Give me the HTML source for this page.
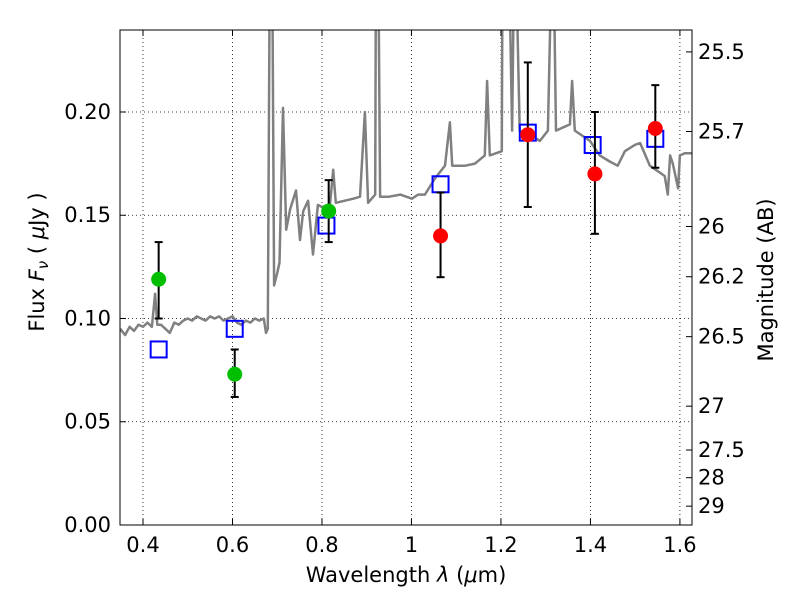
<!DOCTYPE html>
<html><head><meta charset="utf-8"><style>
body{margin:0;background:#fff}
svg text{font-family:"DejaVu Sans","Liberation Sans",sans-serif;fill:#000}
</style></head><body>
<svg id="chart" width="800" height="600" xmlns="http://www.w3.org/2000/svg"></svg>
<script>
const specWave=[0.349,0.36,0.37,0.38,0.39,0.40,0.41,0.42,0.427,0.432,0.44,0.45,0.46,0.47,0.48,0.49,0.50,0.51,0.52,0.53,0.54,0.55,0.56,0.57,0.58,0.59,0.60,0.61,0.62,0.63,0.64,0.65,0.66,0.67,0.675,0.679,0.684,0.688,0.693,0.70,0.705,0.713,0.720,0.729,0.742,0.751,0.758,0.769,0.780,0.791,0.80,0.818,0.825,0.831,0.85,0.87,0.885,0.896,0.903,0.919,0.921,0.925,0.930,0.95,0.975,1.001,1.015,1.030,1.053,1.075,1.086,1.091,1.120,1.142,1.164,1.169,1.175,1.202,1.204,1.216,1.225,1.231,1.242,1.265,1.287,1.305,1.316,1.323,1.354,1.359,1.365,1.399,1.421,1.443,1.461,1.477,1.499,1.511,1.533,1.566,1.573,1.578,1.584,1.596,1.600,1.611,1.627];
const specFlux=[0.095,0.092,0.096,0.094,0.097,0.096,0.098,0.096,0.112,0.097,0.097,0.095,0.093,0.098,0.097,0.099,0.100,0.099,0.101,0.100,0.099,0.101,0.100,0.101,0.099,0.100,0.101,0.098,0.097,0.099,0.098,0.100,0.099,0.100,0.093,0.095,0.30,0.30,0.116,0.122,0.127,0.202,0.143,0.153,0.162,0.138,0.152,0.157,0.131,0.155,0.154,0.155,0.172,0.156,0.157,0.158,0.159,0.200,0.156,0.160,0.30,0.30,0.159,0.159,0.160,0.158,0.160,0.160,0.168,0.174,0.195,0.174,0.174,0.175,0.179,0.215,0.179,0.181,0.30,0.30,0.191,0.30,0.191,0.189,0.186,0.191,0.30,0.191,0.194,0.215,0.191,0.186,0.179,0.176,0.174,0.181,0.184,0.185,0.174,0.169,0.160,0.179,0.175,0.163,0.179,0.180,0.180];
const greenWave=[0.435,0.605,0.815];
const greenFlux=[0.119,0.073,0.152];
const greenLo=[0.100,0.062,0.137];
const greenHi=[0.137,0.085,0.167];
const redWave=[1.065,1.26,1.41,1.545];
const redFlux=[0.140,0.189,0.170,0.192];
const redLo=[0.120,0.154,0.141,0.173];
const redHi=[0.161,0.224,0.200,0.213];
const sqWave=[0.435,0.605,0.81,1.065,1.26,1.405,1.545];
const sqFlux=[0.085,0.095,0.145,0.165,0.190,0.184,0.187];
const xTicks=[0.4,0.6,0.8,1.0,1.2,1.4,1.6];
const xTickLabels=["0.4","0.6","0.8","1","1.2","1.4","1.6"];
const yTicks=[0,0.05,0.10,0.15,0.20];
const yTickLabels=["0.00","0.05","0.10","0.15","0.20"];
const magTicks=[25.5,25.7,26,26.2,26.5,27,27.5,28,29];
const magTickLabels=["25.5","25.7","26","26.2","26.5","27","27.5","28","29"];

const L=120,R=692,T=30,B=525,X0=0.3486,X1=1.627,Y0=0,Y1=0.2397;
const sx=v=>L+(v-X0)/(X1-X0)*(R-L);
const sy=v=>B-(v-Y0)/(Y1-Y0)*(B-T);
const magToFlux=m=>Math.pow(10,(23.9-m)/2.5);
const svg=document.getElementById('chart');
const NS='http://www.w3.org/2000/svg';
function el(tag,attrs,parent){const e=document.createElementNS(NS,tag);for(const k in attrs)e.setAttribute(k,attrs[k]);(parent||svg).appendChild(e);return e;}

const defs=el('defs',{});const cp=el('clipPath',{id:'clip'},defs);el('rect',{x:L,y:T,width:R-L,height:B-T},cp);

const grid=el('g',{});


xTicks.forEach(v=>el('line',{x1:sx(v),x2:sx(v),y1:T,y2:B,stroke:'#000','stroke-width':0.8,'stroke-dasharray':'1,3'},grid));
yTicks.forEach(v=>el('line',{x1:L,x2:R,y1:sy(v),y2:sy(v),stroke:'#000','stroke-width':0.8,'stroke-dasharray':'1,3'},grid));

const g=el('g',{'clip-path':'url(#clip)'});
let d=specWave.map((w,i)=>(i?'L':'M')+sx(w).toFixed(1)+','+sy(specFlux[i]).toFixed(1)).join(' ');
const sp=el('path',{d:d,fill:'none',stroke:'#808080','stroke-width':2.5,'stroke-linejoin':'round'},g);



sqWave.forEach((w,i)=>{const r=el('rect',{x:sx(w)-8,y:sy(sqFlux[i])-8,width:16,height:16,fill:'none',stroke:'#0000ff','stroke-width':2},g);

});

function pts(ws,fs,lo,hi,col,name){ws.forEach((w,i)=>{const x=sx(w);
const eb=el('g',{stroke:'#000','stroke-width':2},g);


el('line',{x1:x,x2:x,y1:sy(lo[i]),y2:sy(hi[i])},eb);
el('line',{x1:x-4,x2:x+4,y1:sy(lo[i]),y2:sy(lo[i])},eb);
el('line',{x1:x-4,x2:x+4,y1:sy(hi[i]),y2:sy(hi[i])},eb);
const c=el('circle',{cx:x,cy:sy(fs[i]),r:7.5,fill:col},g);

});}
pts(greenWave,greenFlux,greenLo,greenHi,'#00bf00','green-data-point');
pts(redWave,redFlux,redLo,redHi,'#ff0000','red-data-point');

const fr=el('rect',{x:L,y:T,width:R-L,height:B-T,fill:'none',stroke:'#000','stroke-width':1});



xTicks.forEach((v,i)=>{const x=sx(v);
el('line',{x1:x,x2:x,y1:B,y2:B-6,stroke:'#000'});el('line',{x1:x,x2:x,y1:T,y2:T+6,stroke:'#000'});
const t=el('text',{x:x,y:B+27,'text-anchor':'middle','font-size':21});t.textContent=xTickLabels[i];

});
yTicks.forEach((v,i)=>{const y=sy(v);
el('line',{x1:L,x2:L+6,y1:y,y2:y,stroke:'#000'});
const t=el('text',{x:L-9,y:y+7,'text-anchor':'end','font-size':21});t.textContent=yTickLabels[i];

});
magTicks.forEach((m,i)=>{const y=sy(magToFlux(m));
el('line',{x1:R,x2:R-6,y1:y,y2:y,stroke:'#000'});
const t=el('text',{x:R+6,y:y+7,'text-anchor':'start','font-size':21});t.textContent=magTickLabels[i];

});

let t=el('text',{x:406,y:582,'text-anchor':'middle','font-size':21});
t.innerHTML='Wavelength  <tspan font-style="italic">λ</tspan> (<tspan font-style="italic">μ</tspan>m)';


t=el('text',{x:0,y:0,'text-anchor':'middle','font-size':21,transform:'translate(44,262) rotate(-90)'});
t.setAttribute('xml:space','preserve');
t.innerHTML='Flux  <tspan font-style="italic">F</tspan><tspan font-style="italic" font-size="15" dy="4">ν</tspan><tspan dy="-4">  (  </tspan><tspan font-style="italic">μ</tspan>Jy )';


t=el('text',{x:0,y:0,'text-anchor':'middle','font-size':21,transform:'translate(773,280) rotate(-90)'});
t.textContent='Magnitude (AB)';


</script>
</body></html>
